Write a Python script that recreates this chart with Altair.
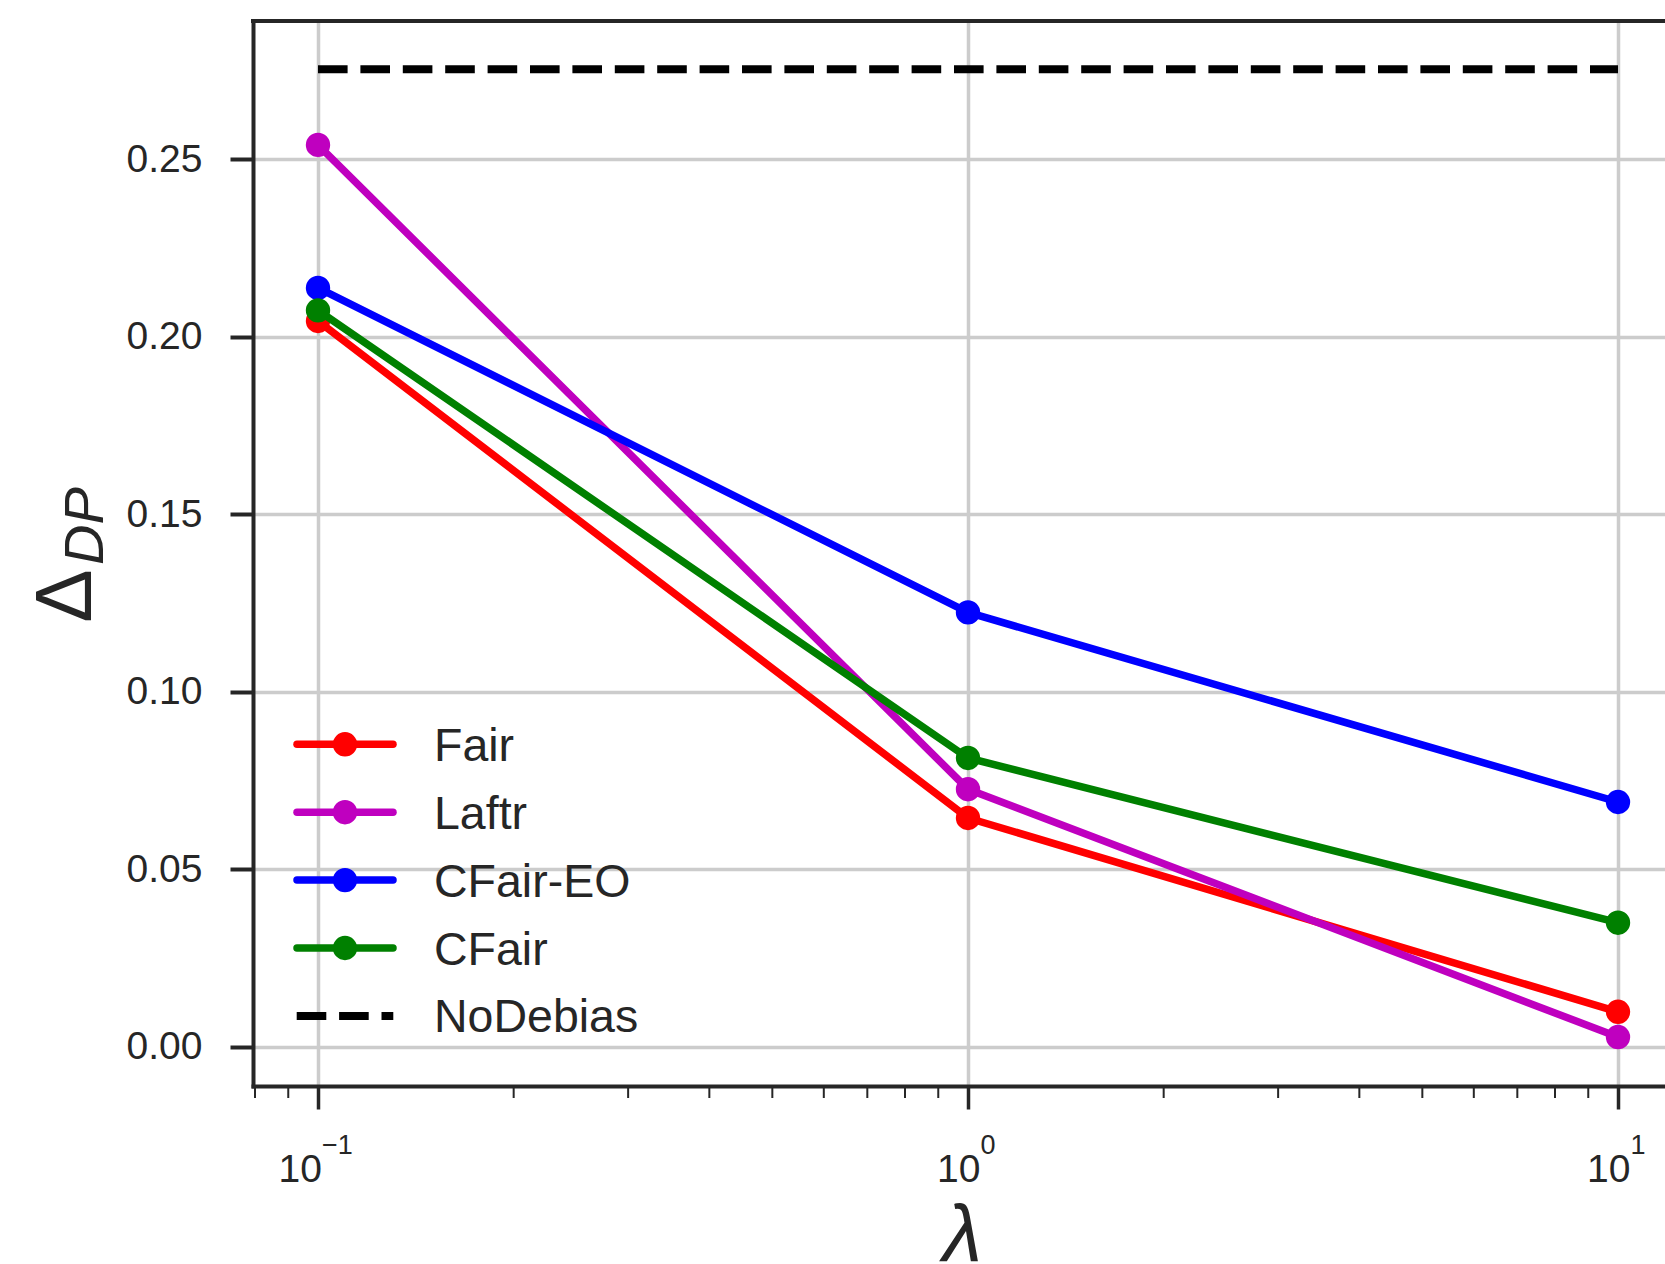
import altair as alt
import pandas as pd

# ---------------- data ----------------
LAMBDAS = [0.1, 1.0, 10.0]
SERIES = ["Fair", "Laftr", "CFair-EO", "CFair"]
FAIR = [0.2045, 0.0645, 0.0099]
LAFTR = [0.2541, 0.0726, 0.0028]
CFAIR_EO = [0.2138, 0.1224, 0.0690]
CFAIR = [0.2075, 0.0814, 0.0350]
NODEBIAS = 0.2754
NODEBIAS_LABEL = "NoDebias"
COLORS = ["#ff0000", "#bf00bf", "#0000ff", "#008000"]

Y_TICKS = [0.0, 0.05, 0.10, 0.15, 0.20, 0.25]
MAJOR_TICKS = [0.1, 1.0, 10.0]
MAJOR_BASE = ["10", "10", "10"]
MAJOR_EXP = ["\u22121", "0", "1"]
MINOR_TICKS = [0.08, 0.09, 0.2, 0.3, 0.4, 0.5, 0.6, 0.7, 0.8, 0.9,
               2, 3, 4, 5, 6, 7, 8, 9]

# ---------------- layout / style ----------------
W, H = 1412, 1065
DARK = "#262626"
GRID = "#cccccc"
FONT = "Liberation Sans"
LW = 7.5
MSIZE = 594

x_scale = alt.Scale(type="log", domain=[10 ** -1.1, 10 ** 1.0723], nice=False)
y_scale = alt.Scale(domain=[-0.011, 0.289], nice=False, zero=False)

x_axis = alt.Axis(values=MAJOR_TICKS, labels=False, title=None,
                  tickSize=23, tickWidth=3.5, tickColor=DARK,
                  domainColor=DARK, domainWidth=4, domainCap="square",
                  grid=True, gridColor=GRID, gridWidth=3.5)
y_axis = alt.Axis(values=Y_TICKS, format=".2f", title=None,
                  labelFont=FONT, labelFontSize=39, labelColor=DARK,
                  labelPadding=28, labelBaseline="middle",
                  tickSize=23, tickWidth=4, tickColor=DARK,
                  domainColor=DARK, domainWidth=4, domainCap="square",
                  grid=True, gridColor=GRID, gridWidth=3.5)

X = alt.X("lam:Q", scale=x_scale, axis=x_axis)
Y = alt.Y("val:Q", scale=y_scale, axis=y_axis)

layers = []

# top spine
layers.append(
    alt.Chart(pd.DataFrame({"s": [0]})).mark_rule(
        color=DARK, strokeWidth=4, strokeCap="square"
    ).encode(x=alt.value(0), x2=alt.value(W), y=alt.value(0))
)

# minor ticks
layers.append(
    alt.Chart(pd.DataFrame({"lam": MINOR_TICKS})).mark_rule(
        color=DARK, strokeWidth=2
    ).encode(x=X, y=alt.value(H), y2=alt.value(H + 12))
)

# series
for name, vals, col in zip(SERIES, [FAIR, LAFTR, CFAIR_EO, CFAIR], COLORS):
    df = pd.DataFrame({"lam": LAMBDAS, "val": vals})
    base = alt.Chart(df)
    layers.append(base.mark_line(color=col, strokeWidth=LW, strokeJoin="round")
                  .encode(x=X, y=Y))
    layers.append(base.mark_circle(color=col, size=MSIZE, opacity=1)
                  .encode(x=X, y=Y))

# NoDebias dashed line
nd = pd.DataFrame({"lam": [LAMBDAS[0]], "lam2": [LAMBDAS[-1]], "val": [NODEBIAS]})
layers.append(
    alt.Chart(nd).mark_rule(color="#000000", strokeWidth=8,
                            strokeDash=[29.6, 12.8], strokeCap="butt")
    .encode(x=X, x2="lam2:Q", y=Y)
)

# x tick labels (10 with superscript exponent)
lab = pd.DataFrame({"lam": MAJOR_TICKS, "base": MAJOR_BASE, "exp": MAJOR_EXP})
for flt, off in [("datum.lam < 0.5", 4), ("datum.lam >= 0.5", 12.5)]:
    lb = alt.Chart(lab).transform_filter(flt)
    layers.append(lb.mark_text(align="right", baseline="alphabetic", dx=off,
                               font=FONT, fontSize=39, color=DARK)
                  .encode(x=X, y=alt.value(1161), text="base:N"))
    layers.append(lb.mark_text(align="left", baseline="alphabetic", dx=off,
                               font=FONT, fontSize=27, color=DARK)
                  .encode(x=X, y=alt.value(1132.5), text="exp:N"))

# legend
LEG_Y0, LEG_DY = 723.3, 67.9
for i, (name, col) in enumerate(zip(SERIES + [NODEBIAS_LABEL], COLORS + ["#000000"])):
    yy = LEG_Y0 + i * LEG_DY
    d = alt.Chart(pd.DataFrame({"label": [name]}))
    if i < len(SERIES):
        layers.append(d.mark_rule(color=col, strokeWidth=LW, strokeCap="round")
                      .encode(x=alt.value(44), x2=alt.value(140), y=alt.value(yy)))
        layers.append(d.mark_circle(color=col, size=MSIZE, opacity=1)
                      .encode(x=alt.value(92), y=alt.value(yy)))
    else:
        layers.append(d.mark_rule(color=col, strokeWidth=8, strokeDash=[29.6, 12.8],
                                  strokeCap="butt")
                      .encode(x=alt.value(43.7), x2=alt.value(140.3), y=alt.value(yy)))
    layers.append(d.mark_text(align="left", baseline="alphabetic", font=FONT,
                              fontSize=46.5, color=DARK)
                  .encode(x=alt.value(181), y=alt.value(yy + 16.5), text="label:N"))

# axis titles
layers.append(
    alt.Chart(pd.DataFrame({"t": ["\u0394"]})).mark_text(
        angle=270, align="center", baseline="alphabetic", font=FONT,
        fontSize=80, color=DARK
    ).encode(x=alt.value(-162.3), y=alt.value(575), text="t:N")
)
layers.append(
    alt.Chart(pd.DataFrame({"t": ["DP"]})).mark_text(
        angle=270, align="center", baseline="alphabetic", font=FONT,
        fontSize=56, fontStyle="italic", color=DARK
    ).encode(x=alt.value(-150), y=alt.value(505), text="t:N")
)
layers.append(
    alt.Chart(pd.DataFrame({"t": ["\u03bb"]})).mark_text(
        align="center", baseline="alphabetic", font=FONT,
        fontSize=80, fontStyle="italic", color=DARK
    ).encode(x=alt.value(709.5), y=alt.value(1240), text="t:N")
)

chart = alt.layer(*layers).properties(
    width=W, height=H,
    autosize=alt.AutoSizeParams(type="none"),
    padding={"left": 253, "top": 21, "right": 0, "bottom": 178},
    background="white",
).configure_view(stroke=None)

chart.save("out.html", embed_options={"renderer": "svg", "actions": False})
